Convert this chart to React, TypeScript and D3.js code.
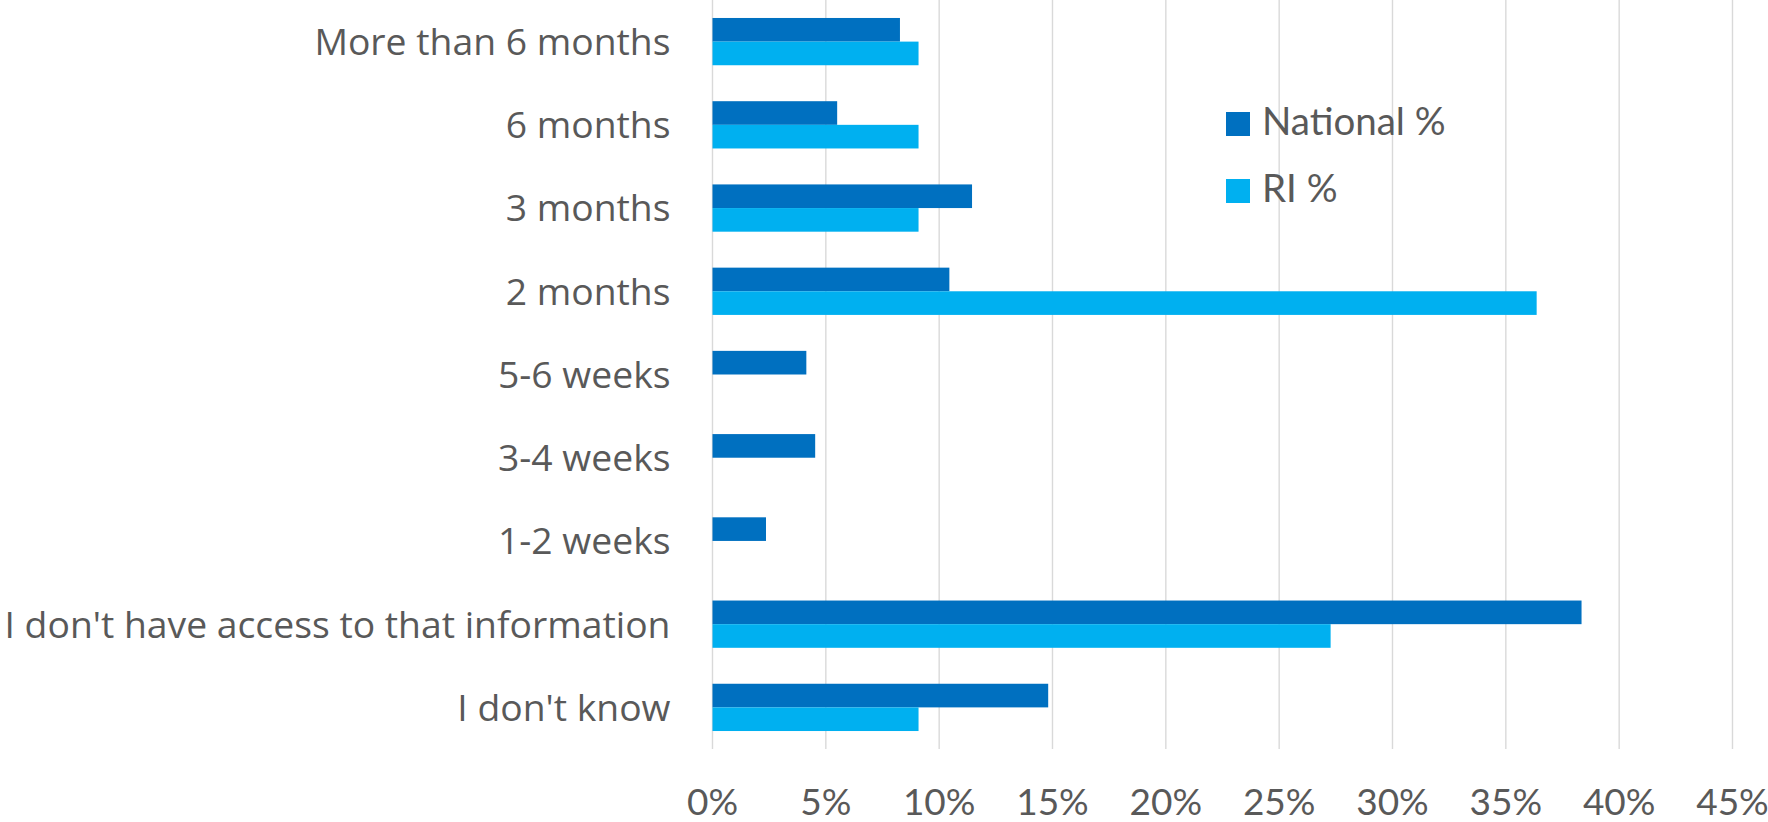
import { scaleBand, scaleLinear } from "d3";

const categories = [
  "More than 6 months",
  "6 months",
  "3 months",
  "2 months",
  "5-6 weeks",
  "3-4 weeks",
  "1-2 weeks",
  "I don't have access to that information",
  "I don't know",
];
const nationalPct = [8.27, 5.5, 11.45, 10.45, 4.14, 4.53, 2.36, 38.34, 14.81];
const riPct = [9.09, 9.09, 9.09, 36.36, 0, 0, 0, 27.27, 9.09];
const seriesNames = ["National %", "RI %"];
const seriesColors = ["#0070C0", "#00B0F0"];
const xTicks = [0, 5, 10, 15, 20, 25, 30, 35, 40, 45];

export default function App() {
  const width = 1768;
  const height = 822;
  const plotLeft = 712.5;
  const plotRight = 1732.5;
  const plotTop = 0;
  const plotBottom = 749;
  const textColor = "#595959";

  const x = scaleLinear().domain([0, 45]).range([plotLeft, plotRight]);
  const y = scaleBand<string>()
    .domain(categories)
    .range([plotTop, plotBottom])
    .paddingInner(0.432)
    .paddingOuter(0.216);
  const sub = scaleBand<string>()
    .domain(seriesNames)
    .range([0, y.bandwidth()]);

  const series = [nationalPct, riPct];

  return (
    <svg
      width={width}
      height={height}
      style={{ position: "absolute", left: 0, top: 0, background: "#fff" }}
    >
      {/* gridlines */}
      {xTicks.map((t) => (
        <line
          key={"g" + t}
          x1={x(t)}
          x2={x(t)}
          y1={plotTop}
          y2={plotBottom}
          stroke="#D9D9D9"
          strokeWidth={1.4}
        />
      ))}

      {/* bars */}
      {series.map((vals, si) =>
        vals.map((v, i) =>
          v > 0 ? (
            <rect
              key={si + "-" + i}
              x={x(0)}
              y={(y(categories[i]) ?? 0) + (sub(seriesNames[si]) ?? 0)}
              width={x(v) - x(0)}
              height={sub.bandwidth()}
              fill={seriesColors[si]}
            />
          ) : null
        )
      )}

      {/* category labels */}
      {categories.map((c) => (
        <text
          key={c}
          x={670.5}
          y={(y(c) ?? 0) + y.bandwidth() / 2}
          dy="0.36em"
          textAnchor="end"
          fill={textColor}
          fontFamily="'Open Sans', sans-serif"
          fontSize={37.3}
        >
          {c}
        </text>
      ))}

      {/* x tick labels */}
      {xTicks.map((t) => (
        <text
          key={"t" + t}
          x={x(t)}
          y={815}
          textAnchor="middle"
          fill={textColor}
          fontFamily="Lato, sans-serif"
          fontSize={37}
        >
          {t + "%"}
        </text>
      ))}

      {/* legend */}
      {seriesNames.map((s, i) => (
        <g key={s} transform={`translate(1226, ${112 + i * 67})`}>
          <rect width={24} height={24} fill={seriesColors[i]} />
          <text
            x={36}
            y={23}
            fill={textColor}
            fontFamily="Lato, sans-serif"
            fontSize={38.5}
          >
            {s}
          </text>
        </g>
      ))}
    </svg>
  );
}
